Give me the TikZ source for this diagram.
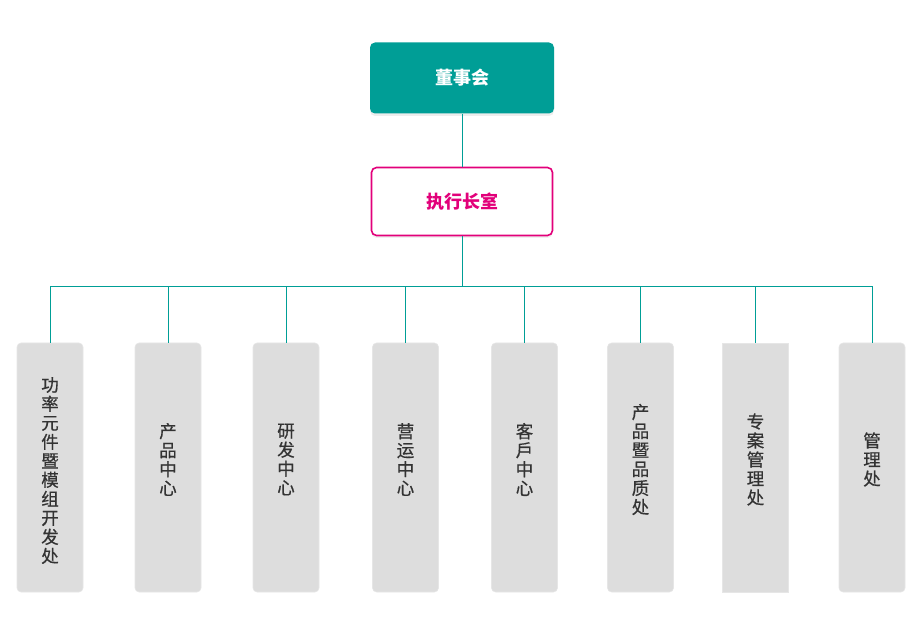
\documentclass[tikz,border=0pt]{standalone}
\usepackage{fontspec}
\setmainfont{Noto Sans CJK SC}
\newfontfamily\deptofont[FakeBold=0.6]{Noto Sans CJK SC}
\usetikzlibrary{shadows}

\definecolor{verdeazul}{HTML}{009E96}
\definecolor{rosa}{HTML}{E2007A}
\definecolor{grisclaro}{HTML}{DDDDDD}
\definecolor{bordegris}{HTML}{E6E6E6}
\definecolor{textogris}{HTML}{333333}

\tikzset{
    junta/.style={fill=verdeazul, rounded corners=5pt, minimum width=184pt, minimum height=71pt,
        text=white, font=\bfseries\fontsize{18}{20}\selectfont,
        drop shadow={shadow xshift=0pt, shadow yshift=-2.5pt, opacity=0.07, fill=black}},
    ejecutiva/.style={draw=rosa, line width=1.6pt, fill=white, rounded corners=5pt,
        minimum width=181pt, minimum height=68pt,
        text=rosa, font=\bfseries\fontsize{18}{20}\selectfont,
        drop shadow={shadow xshift=0pt, shadow yshift=-2.5pt, opacity=0.06, fill=black}},
    depto/.style={draw=bordegris, line width=0.6pt, fill=grisclaro, rounded corners=4pt,
        minimum width=66pt, minimum height=249pt, inner sep=0pt},
    deptotexto/.style={inner sep=0pt, align=center, yshift=8pt,
        text=textogris, font=\deptofont\fontsize{17.5}{19}\selectfont},
    conector/.style={draw=verdeazul, line width=0.9pt}
}

\begin{document}
\begin{tikzpicture}[x=1pt, y=-1pt]
    \useasboundingbox (0,0) rectangle (922,644);

    % Cajas superiores
    \node[junta] (junta) at (462,78) {董事会};
    \node[ejecutiva] (ejecutivo) at (462,201.5) {执行长室};

    % Punto de reparto
    \coordinate (bus) at (462,286.5);

    % Departamentos
    \foreach \i/\x/\dy/\texto in {1/50/-11/功\\率\\元\\件\\暨\\模\\组\\开\\发\\处,
                                  2/168/0/产\\品\\中\\心,
                                  3/286/0/研\\发\\中\\心,
                                  4/405.5/0/营\\运\\中\\心,
                                  5/524.5/0/客\\戶\\中\\心,
                                  6/640.5/0/产\\品\\暨\\品\\质\\处,
                                  7/755.5/0/专\\案\\管\\理\\处,
                                  8/872/0/管\\理\\处}
    {
        \ifnum\i=7
            \node[depto, sharp corners] (d\i) at (\x,467.5) {};
        \else
            \node[depto] (d\i) at (\x,467.5) {};
        \fi
        \node[deptotexto, yshift=\dy pt] (t\i) at (d\i.center) {\texto};
    }

    % Conectores
    \draw[conector] (junta) -- (ejecutivo);
    \draw[conector] (ejecutivo) -- (bus);
    \foreach \i in {1,...,8}
        \draw[conector] (bus) -| (d\i.north);
\end{tikzpicture}
\end{document}
